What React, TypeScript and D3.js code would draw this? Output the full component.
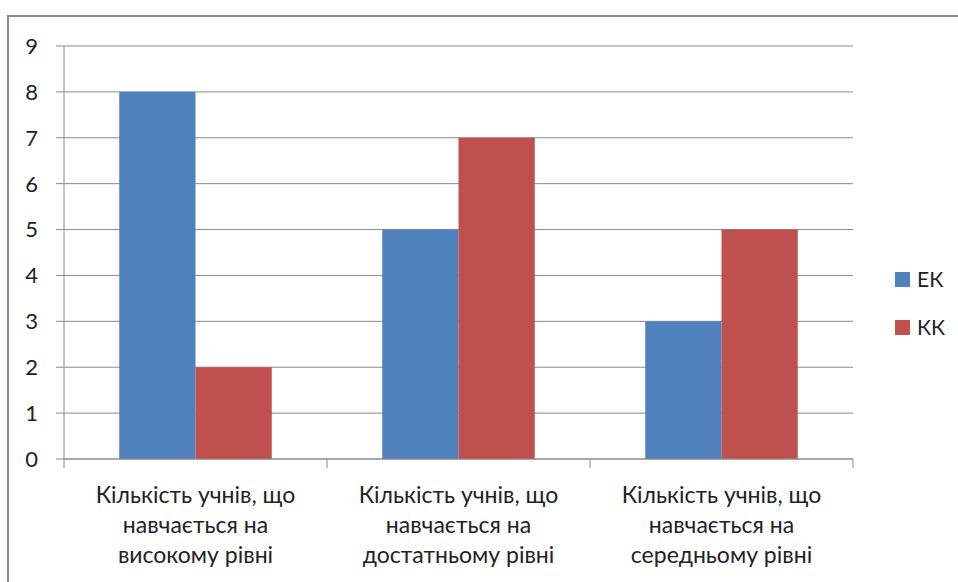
import * as d3 from "d3";
import { useEffect, useRef } from "react";

const categories = [
  ["Кількість учнів, що", "навчається на", "високому рівні"],
  ["Кількість учнів, що", "навчається на", "достатньому рівні"],
  ["Кількість учнів, що", "навчається на", "середньому рівні"],
];
const seriesNames = ["ЕК", "КК"];
const ekValues = [8, 5, 3];
const kkValues = [2, 7, 5];
const yTicks = [0, 1, 2, 3, 4, 5, 6, 7, 8, 9];

const colors = ["#4F81BD", "#C0504D"];
const FONT = "Lato, 'Open Sans', sans-serif";

const App = () => {
  const ref = useRef<SVGSVGElement>(null);

  useEffect(() => {
    if (!ref.current) return;
    const width = 958;
    const height = 582;
    const plot = { left: 64, right: 853, top: 46, bottom: 459 };

    const svg = d3.select(ref.current);
    svg.selectAll("*").remove();
    svg.attr("width", width).attr("height", height);

    // chart border
    svg.append("rect")
      .attr("x", 8)
      .attr("y", 16)
      .attr("width", 960)
      .attr("height", 600)
      .attr("fill", "#fff")
      .attr("stroke", "#8c8c8c")
      .attr("stroke-width", 2);

    const idx = categories.map((_, i) => String(i));
    const x0 = d3.scaleBand().domain(idx).range([plot.left, plot.right]);
    const gap = x0.bandwidth() * 0.21;
    const x1 = d3.scaleBand().domain(seriesNames).range([gap, x0.bandwidth() - gap]);
    const y = d3.scaleLinear().domain([0, 9]).range([plot.bottom, plot.top]);

    // gridlines
    svg.append("g")
      .selectAll("line")
      .data(yTicks)
      .enter()
      .append("line")
      .attr("x1", plot.left - 8)
      .attr("x2", plot.right)
      .attr("y1", d => y(d))
      .attr("y2", d => y(d))
      .attr("stroke", "#8a8a8a")
      .attr("stroke-width", 1);

    // y labels
    svg.append("g")
      .selectAll("text")
      .data(yTicks)
      .enter()
      .append("text")
      .attr("x", 38)
      .attr("y", d => y(d))
      .attr("dy", "0.36em")
      .attr("text-anchor", "end")
      .attr("font-family", FONT)
      .attr("font-size", 22)
      .attr("fill", "#222")
      .text(d => d);

    // bars
    const series = [ekValues, kkValues];
    series.forEach((vals, s) => {
      svg.append("g")
        .selectAll("rect")
        .data(vals)
        .enter()
        .append("rect")
        .attr("x", (_, i) => (x0(String(i)) as number) + (x1(seriesNames[s]) as number))
        .attr("y", d => y(d))
        .attr("width", x1.bandwidth())
        .attr("height", d => y(0) - y(d))
        .attr("fill", colors[s]);
    });

    // axes lines
    svg.append("line")
      .attr("x1", plot.left).attr("x2", plot.left)
      .attr("y1", plot.top).attr("y2", plot.bottom)
      .attr("stroke", "#8a8a8a");
    svg.append("line")
      .attr("x1", plot.left).attr("x2", plot.right)
      .attr("y1", plot.bottom).attr("y2", plot.bottom)
      .attr("stroke", "#8a8a8a");

    // category ticks
    const tickXs = idx.map(i => x0(i) as number).concat([plot.right]);
    svg.append("g")
      .selectAll("line")
      .data(tickXs)
      .enter()
      .append("line")
      .attr("x1", d => d).attr("x2", d => d)
      .attr("y1", plot.bottom).attr("y2", plot.bottom + 9)
      .attr("stroke", "#8a8a8a");

    // category labels
    const labels = svg.append("g")
      .selectAll("text")
      .data(categories)
      .enter()
      .append("text")
      .attr("text-anchor", "middle")
      .attr("font-family", FONT)
      .attr("font-size", 23)
      .attr("fill", "#222");
    labels.each(function (lines, i) {
      const cx = (x0(String(i)) as number) + x0.bandwidth() / 2;
      d3.select(this)
        .selectAll("tspan")
        .data(lines)
        .enter()
        .append("tspan")
        .attr("x", cx)
        .attr("y", (_, j) => 503 + j * 30)
        .text(d => d);
    });

    // legend
    const legend = svg.append("g");
    seriesNames.forEach((name, s) => {
      legend.append("rect")
        .attr("x", 895)
        .attr("y", 272 + s * 48)
        .attr("width", 15)
        .attr("height", 15)
        .attr("fill", colors[s]);
      legend.append("text")
        .attr("x", 917)
        .attr("y", 287 + s * 48)
        .attr("font-family", FONT)
        .attr("font-size", 21)
        .attr("fill", "#222")
        .text(name);
    });
  }, []);

  return (
    <div style={{ position: "absolute", left: 0, top: 0, width: 958, height: 582, overflow: "hidden" }}>
      <svg ref={ref} style={{ display: "block" }} />
    </div>
  );
};

export default App;
